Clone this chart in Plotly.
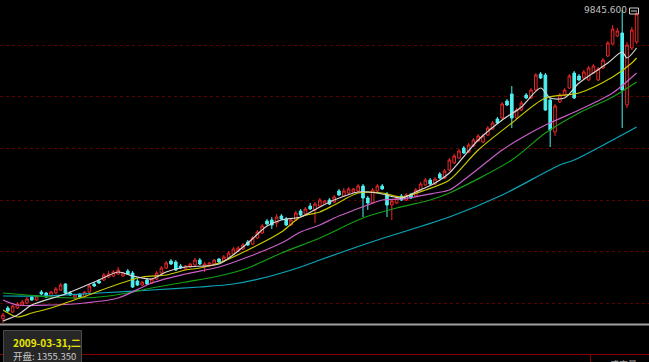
import plotly.graph_objects as go

# ---- candle data (price values) ----
opens = [1355.35, 1650, 1540, 1650, 1732.5, 1787.5, 1952.5, 1870, 2090, 2062.5,
         1980, 2062.5, 2145, 2310, 2062.5, 1925, 2035, 1952.5, 2090, 2310,
         2392.5, 2420, 2502.5, 2530, 2585, 2530, 2667.5, 2612.5, 2392.5, 2282.5,
         2420, 2337.5, 2447.5, 2612.5, 2750, 2942.5, 2915, 2805, 2722.5, 2777.5,
         2832.5, 2970, 2777.5, 2805, 2860, 2997.5, 2942.5, 3025, 3135, 3217.5,
         3272.5, 3465, 3410, 3575, 3712.5, 4042.5, 4070, 3987.5, 4180, 4097.5,
         3932.5, 4070, 4317.5, 4235, 4455, 4345, 4455, 4510, 4620, 4565,
         4867.5, 4730, 4812.5, 4840, 4867.5, 5005, 4675, 4537.5, 4867.5, 5005,
         4785, 4482.5, 4537.5, 4730, 4620, 4757.5, 4730, 4895, 5032.5, 5170,
         5060, 5335, 5225, 5445, 5637.5, 5775, 6050, 5940, 6105, 6242.5,
         6215, 6407.5, 6572.5, 6847.5, 6875, 7342.5, 7535, 6875, 7095, 7507.5,
         7425, 7645, 8085, 8057.5, 7370, 6490, 7315, 7507.5, 7700, 8112.5,
         8030, 7975, 7920, 8112.5, 7920, 8250, 8580, 8910, 9130, 9212.5,
         7232.5, 8800, 8965]
closes = [1457.5, 1567.5, 1705, 1760, 1815, 1897.5, 1870, 1980, 2035, 1952.5,
          2090, 2172.5, 2282.5, 2062.5, 2007.5, 2007.5, 1952.5, 2090, 2255, 2255,
          2337.5, 2557.5, 2585, 2640, 2695, 2612.5, 2585, 2227.5, 2282.5, 2365,
          2310, 2447.5, 2612.5, 2750, 2887.5, 2860, 2695, 2750, 2805, 2860,
          2970, 2860, 2860, 2887.5, 2970, 2915, 3052.5, 3162.5, 3272.5, 3300,
          3382.5, 3382.5, 3575, 3740, 3905, 3960, 3932.5, 4152.5, 4097.5, 3932.5,
          4070, 4262.5, 4207.5, 4372.5, 4372.5, 4510, 4620, 4592.5, 4510, 4702.5,
          4757.5, 4867.5, 4922.5, 4922.5, 5005, 4675, 4537.5, 4895, 5005, 4922.5,
          4482.5, 4592.5, 4675, 4620, 4757.5, 4675, 4895, 5060, 5170, 5060,
          5197.5, 5225, 5417.5, 5720, 5830, 5967.5, 5912.5, 6132.5, 6270, 6380,
          6380, 6600, 6737.5, 6737.5, 7260, 7232.5, 6875, 7095, 7287.5, 7425,
          7645, 8057.5, 7975, 7095, 6545, 7205, 7507.5, 7645, 8030, 7425,
          7920, 8140, 8250, 8305, 8222.5, 8470, 8937.5, 9322.5, 9267.5, 7645,
          8882.5, 9295, 9735]
highs = [1512.5, 1705, 1732.5, 1815, 1870, 1952.5, 1980, 2007.5, 2145, 2090,
         2117.5, 2227.5, 2337.5, 2337.5, 2117.5, 2035, 2062.5, 2117.5, 2310, 2365,
         2447.5, 2612.5, 2667.5, 2695, 2777.5, 2640, 2722.5, 2667.5, 2447.5, 2392.5,
         2475, 2475, 2667.5, 2805, 2942.5, 2997.5, 2970, 2860, 2832.5, 2887.5,
         3025, 3025, 2915, 2915, 2997.5, 3025, 3107.5, 3217.5, 3327.5, 3355,
         3437.5, 3520, 3630, 3795, 3960, 4097.5, 4152.5, 4235, 4235, 4152.5,
         4125, 4317.5, 4372.5, 4427.5, 4537.5, 4565, 4675, 4620, 4675, 4757.5,
         4922.5, 4950, 4977.5, 4950, 5060, 5060, 4730, 4950, 5060, 5060,
         4840, 4647.5, 4730, 4785, 4812.5, 4812.5, 4950, 5115, 5225, 5225,
         5252.5, 5390, 5472.5, 5775, 5885, 6022.5, 6105, 6187.5, 6325, 6435,
         6435, 6655, 6792.5, 6902.5, 7315, 7397.5, 7755, 7150, 7342.5, 7562.5,
         7700, 8112.5, 8140, 8112.5, 7425, 7260, 7562.5, 7700, 8085, 8167.5,
         8085, 8195, 8305, 8360, 8277.5, 8525, 8992.5, 9432.5, 9350, 9845.6,
         8965, 9377.5, 9790]
lows = [1237.5, 1540, 1512.5, 1622.5, 1705, 1760, 1842.5, 1842.5, 2007.5, 1925,
        1952.5, 2035, 2117.5, 2035, 1980, 1897.5, 1925, 1925, 2062.5, 2227.5,
        2310, 2392.5, 2475, 2502.5, 2557.5, 2502.5, 2557.5, 2200, 2255, 2255,
        2282.5, 2310, 2420, 2585, 2722.5, 2832.5, 2667.5, 2722.5, 2695, 2750,
        2805, 2832.5, 2640, 2777.5, 2832.5, 2887.5, 2915, 2997.5, 3107.5, 3190,
        3245, 3355, 3382.5, 3547.5, 3685, 3932.5, 3822.5, 3877.5, 4070, 3905,
        3905, 4042.5, 4180, 4207.5, 4345, 3987.5, 4427.5, 4482.5, 4482.5, 4537.5,
        4730, 4702.5, 4785, 4812.5, 4840, 4152.5, 4345, 4510, 4840, 4895,
        4152.5, 4070, 4510, 4592.5, 4592.5, 4647.5, 4702.5, 4867.5, 5005, 5032.5,
        5032.5, 5197.5, 5197.5, 5417.5, 5610, 5747.5, 5885, 5912.5, 6077.5, 6215,
        6187.5, 6380, 6545, 6710, 6847.5, 7205, 6600, 6847.5, 7067.5, 7397.5,
        7397.5, 7617.5, 7947.5, 7067.5, 6077.5, 6380, 7287.5, 7480, 7672.5, 7397.5,
        7892.5, 7947.5, 7892.5, 8085, 7892.5, 8222.5, 8552.5, 8882.5, 9102.5, 6600,
        7150, 8745, 8910]
idx = list(range(len(opens)))

# ---- moving averages (sampled along the lines) ----
ma5_x = [0, 3, 6, 13, 20, 24, 27, 31, 34, 38, 45, 51, 55, 58, 62, 66, 69, 74, 78, 83,
         86, 90, 93, 99, 104, 108, 112, 114, 117, 120, 126, 129, 130, 132]
ma5_y = [1292.5, 1457.5, 1732.5, 2035, 2420, 2640, 2530, 2447.5, 2640, 2777.5, 2860,
         3437.5, 3905, 4070, 4152.5, 4427.5, 4620, 4840, 4812.5, 4675, 4840, 5087.5,
         5362.5, 6270, 6820, 7177.5, 7700, 7425, 7425, 7837.5, 8387.5, 8690, 8525, 8800]
ma10_x = [0, 3, 6, 10, 13, 19, 20, 29, 34, 38, 41, 45, 51, 58, 62, 66, 69, 74, 79, 83,
          88, 93, 99, 106, 113, 120, 127, 131, 132]
ma10_y = [1595, 1402.5, 1512.5, 1650, 1787.5, 2062.5, 2117.5, 2502.5, 2557.5, 2695,
          2750, 2887.5, 3245, 3740, 4152.5, 4290, 4482.5, 4812.5, 4812.5, 4702.5,
          4895, 5170, 5995, 6737.5, 7425, 7562.5, 8002.5, 8387.5, 8525]
ma20_x = [0, 3, 10, 17, 24, 31, 38, 45, 51, 58, 62, 66, 69, 76, 79, 83, 90, 93, 96,
          100, 104, 108, 113, 120, 127, 132]
ma20_y = [1870, 1732.5, 1732.5, 1787.5, 1925, 2337.5, 2585, 2777.5, 3052.5, 3437.5,
          3740, 3932.5, 4125, 4482.5, 4620, 4647.5, 4812.5, 4895, 5170, 5582.5,
          5995, 6325, 6682.5, 7095, 7562.5, 8112.5]
ma30_x = [0, 5, 10, 16, 22, 27, 31, 38, 45, 51, 58, 66, 75, 82, 89, 93, 106, 113,
          120, 127, 132]
ma30_y = [2062.5, 2007.5, 1952.5, 1925, 1980, 2090, 2200, 2365, 2530, 2750, 3162.5,
          3575, 4125, 4400, 4620, 4812.5, 5720, 6462.5, 7012.5, 7452.5, 7865]
ma60_x = [0, 8, 20, 31, 41, 48, 55, 62, 66, 78, 93, 104, 116, 119, 132]
ma60_y = [1980, 1980, 2062.5, 2145, 2227.5, 2310, 2502.5, 2777.5, 2970, 3520, 4152.5,
          4757.5, 5582.5, 5720, 6627.5]

grid_levels = [1777.5, 3198.5, 4619.5, 6040.5, 7461.5, 8882.5]
tip_date = "2009-03-31,二"
tip_open = "开盘: 1355.350"
max_label = "9845.600"

W, H = 649, 362
PANEL_BOTTOM = 325  # pixel row where the price panel ends

fig = go.Figure()
fig.add_trace(go.Candlestick(
    x=idx, open=opens, high=highs, low=lows, close=closes,
    increasing=dict(line=dict(color="#e8282a", width=1), fillcolor="#000000"),
    decreasing=dict(line=dict(color="#4ef0f0", width=1), fillcolor="#4ef0f0"),
    whiskerwidth=0, hoverinfo="skip", showlegend=False,
))
for xs, ys, col in [(ma60_x, ma60_y, "#0aa6b8"), (ma30_x, ma30_y, "#14a014"),
                    (ma20_x, ma20_y, "#c860c8"), (ma10_x, ma10_y, "#c8c800"),
                    (ma5_x, ma5_y, "#d8d8d8")]:
    fig.add_trace(go.Scatter(x=xs, y=ys, mode="lines",
                             line=dict(color=col, width=1.2, shape="spline", smoothing=0.8),
                             hoverinfo="skip", showlegend=False))

def py(p):
    return 1 - p / H

shapes = [
    # panel separator
    dict(type="line", xref="paper", yref="paper", x0=0, x1=1, y0=py(324.5), y1=py(324.5),
         line=dict(color="#a0a0a0", width=2), layer="above"),
    # volume panel grid
    dict(type="line", xref="paper", yref="paper", x0=0, x1=1, y0=py(354.5), y1=py(354.5),
         line=dict(color="#8a0000", width=1), layer="above"),
    dict(type="line", xref="paper", yref="paper", x0=590.5 / W, x1=590.5 / W, y0=py(354.5), y1=0,
         line=dict(color="#8a0000", width=1), layer="above"),
    # tooltip box
    dict(type="rect", xref="paper", yref="paper", x0=3.5 / W, x1=81.5 / W, y0=py(330.5), y1=py(370),
         line=dict(color="#4a4a4a", width=1), fillcolor="#262626", layer="above"),
    # small icon next to max label
    dict(type="rect", xref="paper", yref="paper", x0=629.5 / W, x1=638.5 / W, y0=py(8), y1=py(14),
         line=dict(color="#d0d0d0", width=1), fillcolor="rgba(0,0,0,0)", layer="above"),
    dict(type="line", xref="paper", yref="paper", x0=631 / W, x1=637 / W, y0=py(11), y1=py(11),
         line=dict(color="#d0d0d0", width=1), layer="above"),
]

imax = max(idx, key=lambda i: highs[i])
annotations = [
    dict(text=max_label, xref="x", yref="y", x=imax, y=highs[imax], xanchor="right", yanchor="middle",
         xshift=7, yshift=0, showarrow=False, font=dict(family="DejaVu Sans", size=9, color="#c0c0c0")),
    dict(text="<b>" + tip_date + "</b>", xref="paper", yref="paper", x=11 / W, y=py(342.5), xanchor="left",
         yanchor="middle", showarrow=False, font=dict(family="Noto Sans CJK SC", size=10, color="#e6e600")),
    dict(text=tip_open, xref="paper", yref="paper", x=11 / W, y=py(355.5), xanchor="left",
         yanchor="middle", showarrow=False, font=dict(family="Noto Sans CJK SC", size=9.5, color="#c8c8c8")),
    dict(text="成交量", xref="paper", yref="paper", x=608 / W, y=py(356), xanchor="left",
         yanchor="top", showarrow=False, font=dict(family="Noto Sans CJK SC", size=9, color="#9a9a9a")),
]

fig.update_layout(
    width=W, height=H, margin=dict(l=0, r=0, t=0, b=0),
    paper_bgcolor="#000000", plot_bgcolor="#000000",
    showlegend=False, hovermode=False, boxgap=0.22,
    shapes=shapes, annotations=annotations,
    xaxis=dict(range=[-3 / 4.8, (W - 3) / 4.8], showgrid=False, zeroline=False, showticklabels=False,
               rangeslider=dict(visible=False), fixedrange=True),
    yaxis=dict(range=[10120 - 27.5 * PANEL_BOTTOM, 10120], domain=[1 - PANEL_BOTTOM / H, 1],
               tickvals=grid_levels, showticklabels=False, gridcolor="#5a0000", griddash="dot",
               gridwidth=1, zeroline=False, fixedrange=True),
)
fig.write_html("out.html")
